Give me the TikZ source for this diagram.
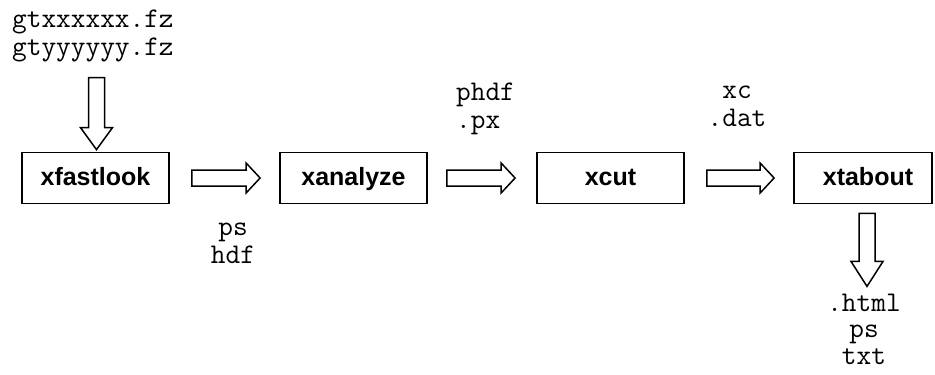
\documentclass[tikz,border=0pt]{standalone}
\usepackage{fontspec}
\setmainfont{Liberation Sans}
\usetikzlibrary{calc}
\tikzset{
  box/.style={draw, line width=1.8pt, minimum width=147pt, minimum height=51pt,
    inner sep=0pt, font=\fontsize{25}{28}\bfseries\selectfont,
    text height=18pt, text depth=4pt},
  files/.style={inner sep=0pt, font=\ttfamily\fontsize{28.5}{28}\selectfont},
  barrow/.style={draw, line width=1.5pt, line join=miter, fill=white}
}
\newcommand\harrow[2]{\draw[barrow] ($(#1)+(0,-8)$) -- ($(#2)+(-14,-8)$) -- ($(#2)+(-14,-15)$) -- (#2) -- ($(#2)+(-14,15)$) -- ($(#2)+(-14,8)$) -- ($(#1)+(0,8)$) -- cycle;}
\newcommand\varrow[3]{\draw[barrow] ($(#1)+(-8,0)$) -- ($(#2)+(-8,-#3)$) -- ($(#2)+(-16,-#3)$) -- (#2) -- ($(#2)+(16,-#3)$) -- ($(#2)+(8,-#3)$) -- ($(#1)+(8,0)$) -- cycle;}
\begin{document}
\begin{tikzpicture}[x=1pt,y=-1pt]
\useasboundingbox (0,0) rectangle (935,375);
% boxes
\node[box] (fast) at (95.5,178) {xfastlook};
\node[box] (ana) at (353.5,178) {xanalyze};
\node[box] (cut) at (610.5,178) {xcut};
\node[box, minimum width=138pt] (tab) at (863,178) {\hspace*{10pt}xtabout};
% file labels
\node[files, anchor=base west] (in) at (12,27) {\begin{tabular}[t]{@{}l@{}}gtxxxxxx.fz\\gtyyyyyy.fz\end{tabular}};
\node[files, anchor=base] (pshdf) at (233,235) {\begin{tabular}[t]{@{}c@{}}ps\\hdf\end{tabular}};
\node[files, anchor=base west] (phdf) at (456,100) {\begin{tabular}[t]{@{}l@{}}phdf\\.px\end{tabular}};
\node[files, anchor=base] (xcdat) at (737,98) {\begin{tabular}[t]{@{}c@{}}xc\\.dat\end{tabular}};
\node[files, font=\ttfamily\fontsize{28.5}{26.5}\selectfont, anchor=base] (out) at (864,311) {\begin{tabular}[t]{@{}c@{}}.html\\ps\\txt\end{tabular}};
% connector end points
\coordinate (v1t) at ($(fast.north)+(1,-74)$);
\coordinate (v1h) at ($(fast.north)+(1,-2)$);
\coordinate (a1t) at ($(fast.east)+(22,0)$);
\coordinate (a1h) at ($(ana.west)+(-19,0)$);
\coordinate (a2t) at ($(ana.east)+(19,0)$);
\coordinate (a2h) at ($(cut.west)+(-21,0)$);
\coordinate (a3t) at ($(cut.east)+(22,0)$);
\coordinate (a3h) at ($(tab.west)+(-19,0)$);
\coordinate (v2t) at ($(tab.south)+(4,9)$);
\coordinate (v2h) at ($(tab.south)+(4,82)$);
% block arrows
\varrow{v1t}{v1h}{22}
\harrow{a1t}{a1h}
\harrow{a2t}{a2h}
\harrow{a3t}{a3h}
\varrow{v2t}{v2h}{25}
\end{tikzpicture}
\end{document}
